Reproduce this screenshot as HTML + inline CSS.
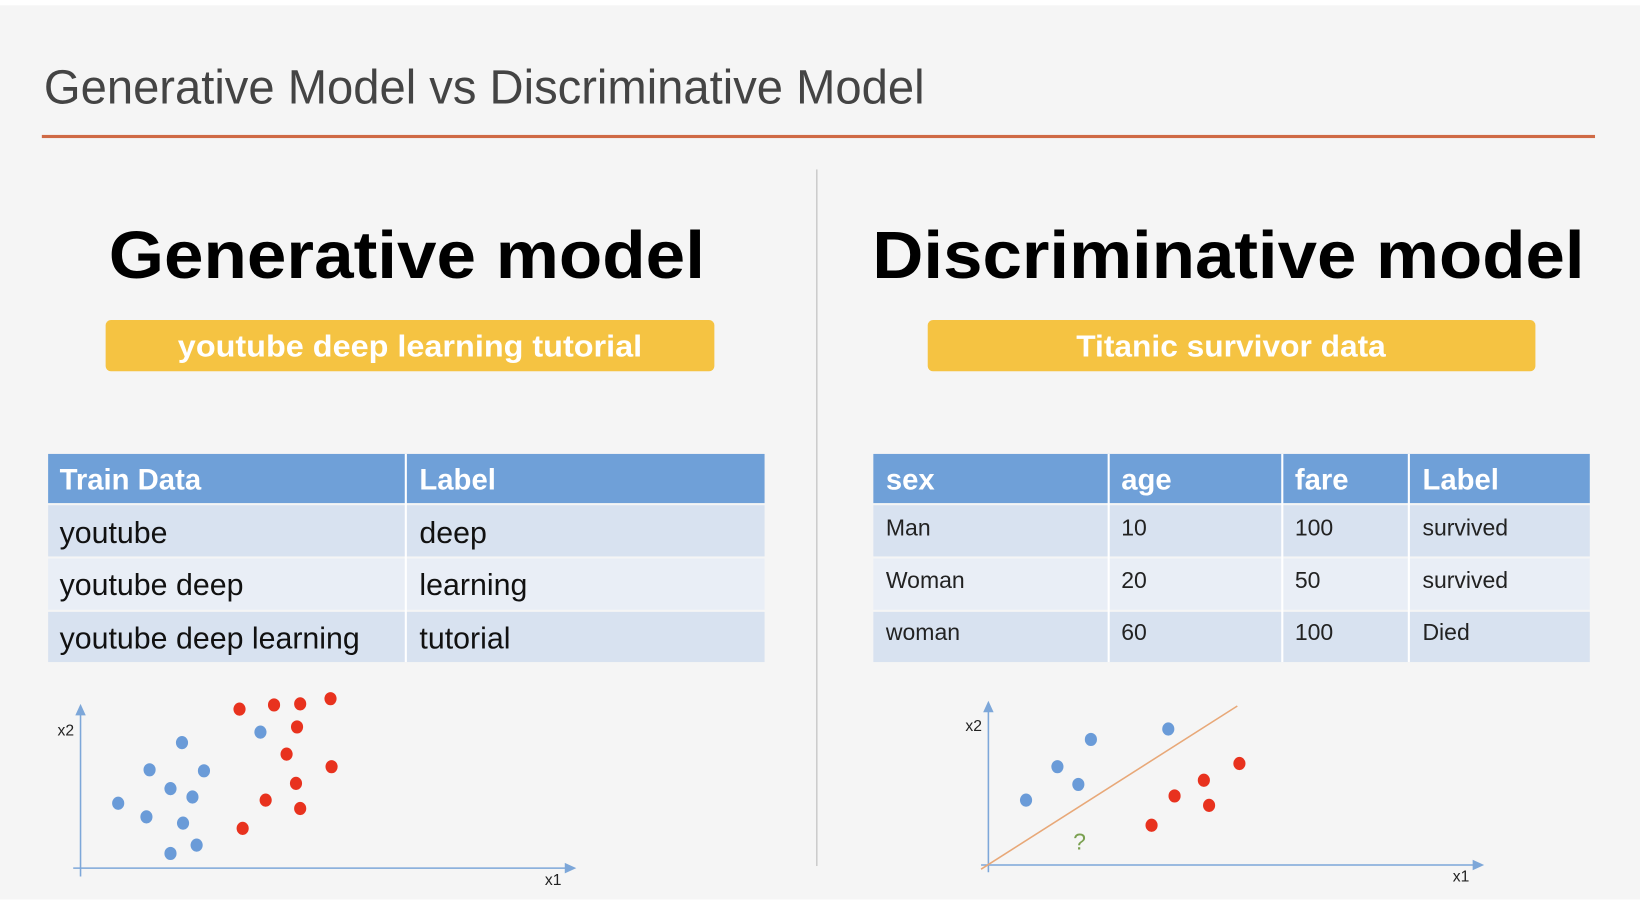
<!DOCTYPE html>
<html><head><meta charset="utf-8"><style>
html,body{margin:0;padding:0;background:#fff;}
svg{display:block;font-family:"Liberation Sans",sans-serif;}
</style></head><body>
<svg id="slide" width="1640" height="918" viewBox="0 0 1568 877.7" xmlns="http://www.w3.org/2000/svg">
<rect x="0" y="5" width="1568" height="855" fill="#f5f5f5"/>
<text x="42" y="99" font-size="46" fill="#444" textLength="842" lengthAdjust="spacingAndGlyphs">Generative Model vs Discriminative Model</text>
<rect x="40" y="129" width="1485" height="3" fill="#cf6a45"/>
<rect x="780.5" y="162" width="1" height="666" fill="#b8b8b8"/>

<text x="104" y="266" font-size="64" font-weight="bold" fill="#000" textLength="570" lengthAdjust="spacingAndGlyphs">Generative model</text>
<text x="834" y="266" font-size="64" font-weight="bold" fill="#000" textLength="681" lengthAdjust="spacingAndGlyphs">Discriminative model</text>

<rect x="101" y="306" width="582" height="49" rx="5" fill="#f5c342"/>
<text x="392" y="341" font-size="29" font-weight="bold" fill="#fff" text-anchor="middle" textLength="444" lengthAdjust="spacingAndGlyphs">youtube deep learning tutorial</text>
<rect x="887" y="306" width="581" height="49" rx="5" fill="#f5c342"/>
<text x="1177" y="341" font-size="29" font-weight="bold" fill="#fff" text-anchor="middle" textLength="296" lengthAdjust="spacingAndGlyphs">Titanic survivor data</text>

<g>
<rect x="46" y="434" width="685" height="47" fill="#6fa0d8"/>
<rect x="46" y="483" width="685" height="49" fill="#d8e2f0"/>
<rect x="46" y="534" width="685" height="49" fill="#e9eef6"/>
<rect x="46" y="585" width="685" height="48" fill="#d8e2f0"/>
<rect x="387" y="434" width="2" height="199" fill="#fff"/>
<text x="57" y="468" font-size="28" font-weight="bold" fill="#fff">Train Data</text>
<text x="401" y="468" font-size="28" font-weight="bold" fill="#fff">Label</text>
<g font-size="29" fill="#111">
<text x="57" y="519">youtube</text><text x="401" y="519">deep</text>
<text x="57" y="569">youtube deep</text><text x="401" y="569">learning</text>
<text x="57" y="620">youtube deep learning</text><text x="401" y="620">tutorial</text>
</g></g>

<g>
<rect x="835" y="434" width="685" height="47" fill="#6fa0d8"/>
<rect x="835" y="483" width="685" height="49" fill="#d8e2f0"/>
<rect x="835" y="534" width="685" height="49" fill="#e9eef6"/>
<rect x="835" y="585" width="685" height="48" fill="#d8e2f0"/>
<rect x="1059" y="434" width="2" height="199" fill="#fff"/>
<rect x="1225" y="434" width="2" height="199" fill="#fff"/>
<rect x="1346" y="434" width="2" height="199" fill="#fff"/>
<g font-size="28" font-weight="bold" fill="#fff">
<text x="847" y="468">sex</text><text x="1072" y="468">age</text><text x="1238" y="468">fare</text><text x="1360" y="468">Label</text></g>
<g font-size="22" fill="#222">
<text x="847" y="512">Man</text><text x="1072" y="512">10</text><text x="1238" y="512">100</text><text x="1360" y="512">survived</text>
<text x="847" y="562">Woman</text><text x="1072" y="562">20</text><text x="1238" y="562">50</text><text x="1360" y="562">survived</text>
<text x="847" y="612">woman</text><text x="1072" y="612">60</text><text x="1238" y="612">100</text><text x="1360" y="612">Died</text>
</g></g>

<g id="chartL">
<line x1="77" y1="838" x2="77" y2="682" stroke="#7da7d9" stroke-width="1.5"/>
<polygon points="77,673 72,684 82,684" fill="#7da7d9"/>
<line x1="70" y1="830" x2="541" y2="830" stroke="#7da7d9" stroke-width="1.5"/>
<polygon points="551,830 540,825 540,835" fill="#7da7d9"/>
<text x="55" y="703" font-size="15" fill="#222">x2</text>
<text x="521" y="846" font-size="15" fill="#222">x1</text>
</g>
<g id="chartR">
<line x1="945" y1="834" x2="945" y2="679" stroke="#7da7d9" stroke-width="1.5"/>
<polygon points="945,670 940,681 950,681" fill="#7da7d9"/>
<line x1="938" y1="827" x2="1409" y2="827" stroke="#7da7d9" stroke-width="1.5"/>
<polygon points="1419,827 1408,822 1408,832" fill="#7da7d9"/>
<text x="923" y="699" font-size="15" fill="#222">x2</text>
<text x="1389" y="843" font-size="15" fill="#222">x1</text>
<text x="1026" y="812" font-size="22" fill="#7aa050">?</text>
</g>
</svg>
<script>
const NS='http://www.w3.org/2000/svg';
// Generative chart data (x1, x2 units from origin)
const genBlueX1=[97,66,118,86,107,36,63,98,111,86,172];
const genBlueX2=[120,94,93,76,68,62,49,43,22,14,130];
const genRedX1=[152,185,210,239,207,197,240,206,177,210,155];
const genRedX2=[152,156,157,162,135,109,97,81,65,57,38];
// Discriminative chart data
const discBlueX1=[36,66,86,98,172];
const discBlueX2=[62,94,77,120,130];
const discRedX1=[156,178,206,211,240];
const discRedX2=[38,66,81,57,97];
const boundaryX1=[-7,238];
const boundaryX2=[-4,152];

function axes(ox,oy){return {x:v=>ox+v,y:v=>oy-v};}
const axL=axes(77,830), axR=axes(945,827);
function dots(g,ax,xs,ys,color,name){
  xs.forEach((v,i)=>{
    const c=document.createElementNS(NS,'ellipse');
    c.setAttribute('cx',ax.x(v));c.setAttribute('cy',ax.y(ys[i]));
    c.setAttribute('rx',5.8);c.setAttribute('ry',6.3);c.setAttribute('fill',color);
    
    
    g.appendChild(c);
  });
}
const gL=document.getElementById('chartL'), gR=document.getElementById('chartR');
dots(gL,axL,genBlueX1,genBlueX2,'#6a9bd8','blue-point');
dots(gL,axL,genRedX1,genRedX2,'#e8321e','red-point');
const ln=document.createElementNS(NS,'line');
ln.setAttribute('x1',axR.x(boundaryX1[0]));ln.setAttribute('y1',axR.y(boundaryX2[0]));
ln.setAttribute('x2',axR.x(boundaryX1[1]));ln.setAttribute('y2',axR.y(boundaryX2[1]));
ln.setAttribute('stroke','#e8a878');ln.setAttribute('stroke-width','1.5');


gR.appendChild(ln);
dots(gR,axR,discBlueX1,discBlueX2,'#6a9bd8','blue-point');
dots(gR,axR,discRedX1,discRedX2,'#e8321e','red-point');
</script>
</body></html>
